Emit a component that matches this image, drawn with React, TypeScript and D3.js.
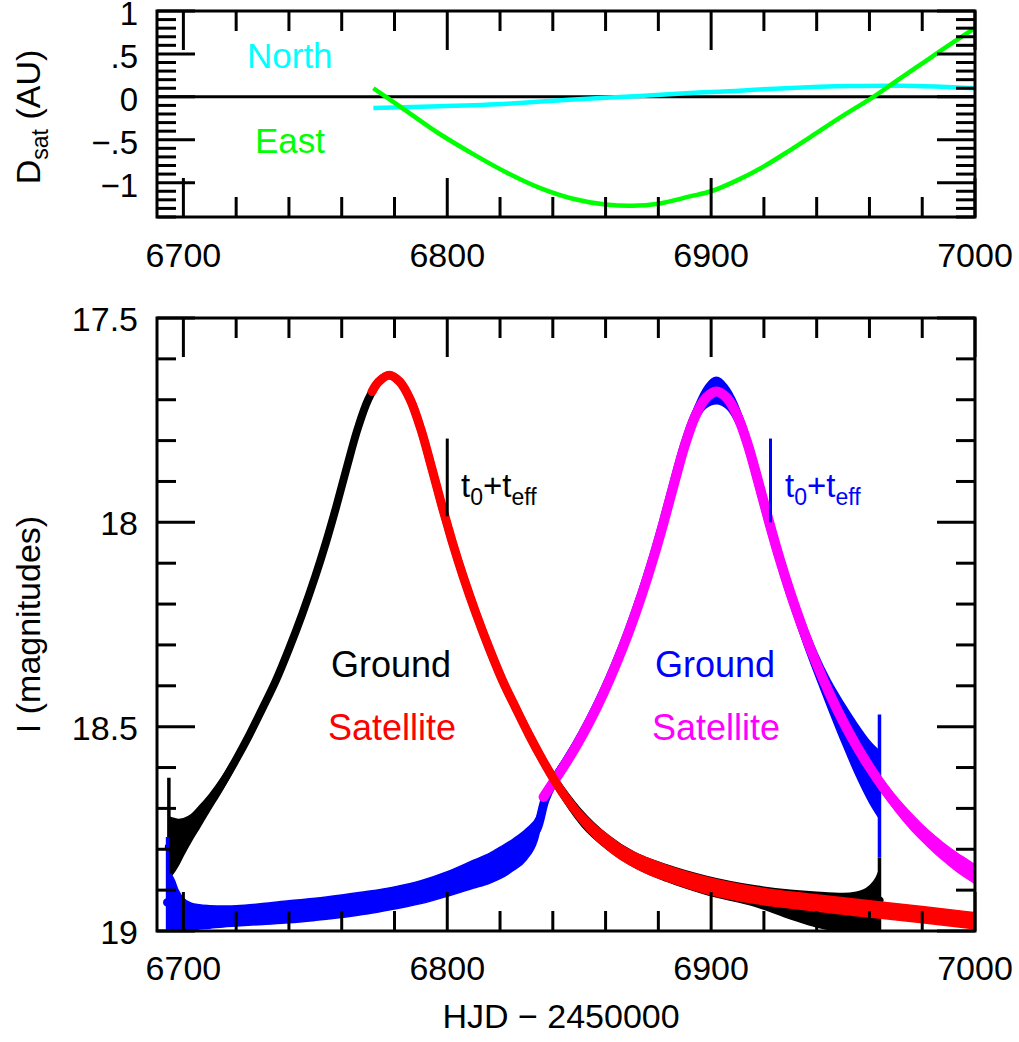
import React from "react";
import * as d3 from "d3";

// ---------- data ----------
const xMajorTicks = [6700, 6800, 6900, 7000];
const topYTicks = [1, 0.5, 0, -0.5, -1];
const topYLabels = ["1", ".5", "0", "\u2212.5", "\u22121"];
const botYTicks = [17.5, 18, 18.5, 19];
const botYLabels = ["17.5", "18", "18.5", "19"];

// Top panel: satellite separation (AU)
const eastT = [6772, 6782, 6797, 6810, 6823, 6835, 6848, 6860, 6870, 6880, 6892, 6900, 6910, 6920, 6930, 6940, 6950, 6961.5, 6970, 6980, 6990, 7000];
const eastV = [0.10, -0.11, -0.43, -0.67, -0.89, -1.06, -1.19, -1.255, -1.27, -1.245, -1.16, -1.10, -0.97, -0.81, -0.62, -0.42, -0.22, 0.0, 0.18, 0.39, 0.60, 0.80];
const northT = [6772, 6797, 6823, 6848, 6873, 6892, 6903, 6928, 6953, 6972, 6985, 7000];
const northV = [-0.13, -0.11, -0.08, -0.03, 0.01, 0.045, 0.06, 0.10, 0.125, 0.13, 0.12, 0.10];

// Ground 1 (black) band: bright edge / faint edge (mag)
const g1T = [6694.5, 6696, 6698, 6700, 6703, 6706, 6710, 6715, 6720, 6725, 6730, 6735, 6740, 6745, 6750, 6754, 6758, 6762, 6766, 6770, 6774, 6778, 6782, 6786, 6790, 6794, 6798, 6802, 6806, 6811, 6816, 6821, 6826, 6831, 6836, 6841, 6846, 6851, 6861, 6871, 6883, 6898, 6917, 6930, 6940, 6950, 6955, 6960, 6962.5, 6963.8];
const g1Hi = [18.72, 18.724, 18.727, 18.725, 18.715, 18.695, 18.665, 18.62, 18.567, 18.509, 18.445, 18.379, 18.302, 18.218, 18.126, 18.045, 17.956, 17.861, 17.77, 17.698, 17.655, 17.639, 17.655, 17.698, 17.77, 17.861, 17.956, 18.045, 18.126, 18.218, 18.302, 18.379, 18.445, 18.509, 18.567, 18.62, 18.665, 18.705, 18.766, 18.808, 18.838, 18.866, 18.89, 18.9, 18.905, 18.908, 18.905, 18.89, 18.87, 18.85];
const g1Lo = [18.87, 18.86, 18.84, 18.815, 18.78, 18.748, 18.705, 18.652, 18.593, 18.531, 18.465, 18.397, 18.318, 18.232, 18.138, 18.055, 17.964, 17.867, 17.774, 17.702, 17.657, 17.641, 17.657, 17.702, 17.774, 17.867, 17.964, 18.055, 18.138, 18.232, 18.318, 18.397, 18.465, 18.531, 18.593, 18.65, 18.70, 18.743, 18.802, 18.844, 18.878, 18.91, 18.94, 18.97, 18.99, 19.0, 19.0, 19.0, 19.0, 19.0];

// Satellite 1 (red)
const s1T = [6771.5, 6774, 6778, 6782, 6786, 6790, 6794, 6798, 6800, 6802, 6806, 6811, 6816, 6821, 6826, 6831, 6836, 6841, 6846, 6851, 6856, 6861, 6866, 6871, 6876, 6883, 6898, 6917, 6938, 6960, 6980, 7000];
const s1Hi = [17.68, 17.656, 17.64, 17.656, 17.70, 17.772, 17.864, 17.96, 18.005, 18.05, 18.132, 18.225, 18.308, 18.384, 18.449, 18.512, 18.57, 18.623, 18.669, 18.7085, 18.74, 18.766, 18.79, 18.808, 18.822, 18.839, 18.868, 18.893, 18.91, 18.926, 18.94, 18.955];
const s1Lo = [17.68, 17.656, 17.64, 17.656, 17.70, 17.772, 17.864, 17.96, 18.005, 18.05, 18.132, 18.225, 18.312, 18.392, 18.461, 18.528, 18.59, 18.647, 18.697, 18.7395, 18.774, 18.802, 18.826, 18.844, 18.86, 18.877, 18.908, 18.933, 18.95, 18.966, 18.98, 18.995];

// Ground 2 (blue)
const g2T = [6694, 6695, 6696.5, 6698, 6700, 6703, 6706, 6710, 6715, 6720, 6730, 6740, 6750, 6760, 6770, 6780, 6790, 6800, 6810, 6816, 6820, 6825, 6830, 6834, 6837, 6840, 6844, 6849, 6854, 6859, 6864, 6869, 6874, 6878, 6882, 6886, 6890, 6894, 6898, 6902, 6906, 6910, 6914, 6918, 6922, 6926, 6930, 6935, 6940, 6945, 6950, 6955, 6960, 6963.8];
const g2Hi = [18.86, 18.86, 18.875, 18.90, 18.92, 18.932, 18.936, 18.938, 18.939, 18.938, 18.933, 18.926, 18.92, 18.912, 18.903, 18.892, 18.877, 18.855, 18.827, 18.81, 18.795, 18.775, 18.75, 18.72, 18.66, 18.62, 18.58, 18.527, 18.468, 18.402, 18.328, 18.245, 18.153, 18.071, 17.981, 17.885, 17.79, 17.715, 17.665, 17.645, 17.665, 17.712, 17.788, 17.882, 17.978, 18.067, 18.148, 18.238, 18.318, 18.385, 18.44, 18.49, 18.535, 18.56];
const g2Lo = [19.0, 19.0, 19.0, 19.0, 18.999, 18.997, 18.995, 18.993, 18.99, 18.988, 18.984, 18.98, 18.974, 18.967, 18.958, 18.946, 18.933, 18.915, 18.895, 18.883, 18.872, 18.852, 18.825, 18.78, 18.70, 18.655, 18.612, 18.559, 18.50, 18.434, 18.36, 18.277, 18.185, 18.103, 18.013, 17.917, 17.828, 17.76, 17.72, 17.71, 17.722, 17.765, 17.835, 17.926, 18.022, 18.113, 18.198, 18.295, 18.382, 18.465, 18.545, 18.62, 18.685, 18.725];

// Satellite 2 (magenta)
const s2T = [6836.5, 6840, 6844, 6849, 6854, 6859, 6864, 6869, 6874, 6878, 6882, 6886, 6890, 6894, 6898, 6902, 6906, 6910, 6914, 6918, 6922, 6926, 6930, 6935, 6940, 6945, 6950, 6955, 6960, 6965, 6970, 6975, 6980, 6985, 6990, 6995, 7000];
const s2Hi = [18.668, 18.634, 18.595, 18.542, 18.483, 18.417, 18.343, 18.261, 18.169, 18.088, 17.999, 17.904, 17.812, 17.74, 17.696, 17.68, 17.696, 17.74, 17.812, 17.904, 17.998, 18.087, 18.167, 18.258, 18.339, 18.412, 18.476, 18.533, 18.584, 18.63, 18.671, 18.707, 18.74, 18.769, 18.795, 18.817, 18.838];
const s2Lo = [18.676, 18.642, 18.603, 18.55, 18.491, 18.425, 18.351, 18.268, 18.175, 18.092, 18.001, 17.904, 17.812, 17.74, 17.696, 17.68, 17.696, 17.74, 17.812, 17.904, 18.002, 18.093, 18.177, 18.271, 18.355, 18.43, 18.498, 18.559, 18.614, 18.663, 18.707, 18.746, 18.78, 18.811, 18.838, 18.863, 18.884];

// Spikes at the ends of the ground light curves
const g1SpikeT = [6694.5, 6963.8];
const g1SpikeTop = [18.625, 18.82];
const g1SpikeBot = [19.0, 19.0];
const g2SpikeT = [6694.0, 6963.8];
const g2SpikeTop = [18.77, 18.47];
const g2SpikeBot = [19.0, 18.82];

// t0 + teff markers
const markT = [6800, 6922.5];
const markTop = [17.795, 17.795];
const markBot = [17.985, 18.0];

// ---------- layout ----------
const W = 1019, H = 1042;
const L = 157, R = 975;
const TOP = { t: 11, b: 217 };
const BOT = { t: 318, b: 931 };
const FONT = "'Liberation Sans', Arial, Helvetica, sans-serif";

const fx = d3.scaleLinear().domain([6690, 7000]).range([L, R]);
const fyTop = d3.scaleLinear().domain([-1.4, 1]).range([TOP.b, TOP.t]);
const fyBot = d3.scaleLinear().domain([17.5, 19]).range([BOT.t, BOT.b]);

const CURVE = d3.curveCatmullRom.alpha(0.5);

function Band({ t, hi, lo, color, sw }: { t: number[]; hi: number[]; lo: number[]; color: string; sw: number }) {
  const idx = t.map((_, i) => i);
  const area = d3.area<number>()
    .x((i) => fx(t[i]))
    .y0((i) => fyBot(hi[i]))
    .y1((i) => fyBot(lo[i]))
    .curve(d3.curveMonotoneX);
  const mid = d3.line<number>()
    .x((i) => fx(t[i]))
    .y((i) => fyBot((hi[i] + lo[i]) / 2))
    .curve(CURVE);
  return (
    <g>
      <path d={area(idx) || ""} fill={color} stroke={color} strokeWidth={1.5} />
      <path d={mid(idx) || ""} fill="none" stroke={color} strokeWidth={sw} strokeLinecap="round" strokeLinejoin="round" />
    </g>
  );
}

function Spikes({ t, top, bot, color }: { t: number[]; top: number[]; bot: number[]; color: string }) {
  return (
    <g>
      {t.map((v, i) => (
        <line key={i} x1={fx(v)} x2={fx(v)} y1={fyBot(top[i])} y2={fyBot(bot[i])} stroke={color} strokeWidth={3.5} />
      ))}
    </g>
  );
}

function Frame({ top, bot, yMinor, yMajor, ys }: { top: number; bot: number; yMinor: number[]; yMajor: number[]; ys: (v: number) => number }) {
  const xMinor = d3.range(6700, 7001, 20);
  const els: JSX.Element[] = [];
  xMinor.forEach((v, i) => {
    const major = xMajorTicks.includes(v);
    const len = major ? 39 : 20;
    const x = fx(v);
    els.push(<line key={"xt" + i} x1={x} x2={x} y1={top} y2={top + len} stroke="#000" strokeWidth={3} />);
    els.push(<line key={"xb" + i} x1={x} x2={x} y1={bot} y2={bot - len} stroke="#000" strokeWidth={3} />);
  });
  yMinor.forEach((v, i) => {
    const major = yMajor.some((m) => Math.abs(m - v) < 1e-6);
    const len = major ? 38 : 19;
    const y = ys(v);
    els.push(<line key={"yl" + i} x1={L} x2={L + len} y1={y} y2={y} stroke="#000" strokeWidth={3} />);
    els.push(<line key={"yr" + i} x1={R} x2={R - len} y1={y} y2={y} stroke="#000" strokeWidth={3} />);
  });
  return (
    <g>
      {els}
      <rect x={L} y={top} width={R - L} height={bot - top} fill="none" stroke="#000" strokeWidth={3} />
    </g>
  );
}

function TeffLabel({ x, y, color }: { x: number; y: number; color: string }) {
  return (
    <text x={x} y={y} fontFamily={FONT} fontSize={33} fill={color}>
      t<tspan fontSize={23} dy={8}>0</tspan>
      <tspan dy={-8}>+t</tspan>
      <tspan fontSize={23} dy={8}>eff</tspan>
    </text>
  );
}

export default function App() {
  const eastLine = d3.line<number>().x((i) => fx(eastT[i])).y((i) => fyTop(eastV[i])).curve(CURVE);
  const northLine = d3.line<number>().x((i) => fx(northT[i])).y((i) => fyTop(northV[i])).curve(CURVE);

  const topMinor = d3.range(-14, 11).map((v) => v / 10);
  const botMinor = d3.range(175, 191).map((v) => v / 10);
  const topMajor = [1, 0.5, 0, -0.5, -1];
  const botMajor = [17.5, 18, 18.5, 19];

  return (
    <svg width={W} height={H} style={{ position: "absolute", left: 0, top: 0, background: "#fff" }} fontFamily={FONT}>
      <rect x={0} y={0} width={W} height={H} fill="#fff" />
      <defs>
        <clipPath id="clipTop"><rect x={L} y={TOP.t} width={R - L} height={TOP.b - TOP.t} /></clipPath>
        <clipPath id="clipBot"><rect x={L} y={BOT.t} width={R - L} height={BOT.b - BOT.t} /></clipPath>
      </defs>

      {/* ---------- top panel ---------- */}
      <line x1={L} x2={R} y1={fyTop(0)} y2={fyTop(0)} stroke="#000" strokeWidth={3} />
      <g clipPath="url(#clipTop)">
        <path d={northLine(northT.map((_, i) => i)) || ""} fill="none" stroke="#00FFFF" strokeWidth={4.5} />
        <path d={eastLine(eastT.map((_, i) => i)) || ""} fill="none" stroke="#00FF00" strokeWidth={4.5} />
      </g>
      <Frame top={TOP.t} bot={TOP.b} yMinor={topMinor} yMajor={topMajor} ys={fyTop} />
      {topYTicks.map((v, i) => (
        <text key={i} x={138} y={fyTop(v) + 14} textAnchor="end" fontSize={33}>{topYLabels[i]}</text>
      ))}
      {xMajorTicks.map((v) => (
        <text key={v} x={fx(v)} y={267} textAnchor="middle" fontSize={34}>{v}</text>
      ))}
      <text x={247} y={68} fontSize={35} fill="#00FFFF">North</text>
      <text x={255} y={153} fontSize={35} fill="#00FF00">East</text>
      <text transform={`translate(40,${(TOP.t + TOP.b) / 2 + 3}) rotate(-90)`} textAnchor="middle" fontSize={34}>
        D<tspan fontSize={23} dy={8}>sat</tspan><tspan dy={-8}> (AU)</tspan>
      </text>

      {/* ---------- bottom panel ---------- */}
      <g clipPath="url(#clipBot)">
        <Band t={g1T} hi={g1Hi} lo={g1Lo} color="#000000" sw={8} />
        <Spikes t={g1SpikeT} top={g1SpikeTop} bot={g1SpikeBot} color="#000000" />
        <Band t={g2T} hi={g2Hi} lo={g2Lo} color="#0000FF" sw={9} />
        <Spikes t={g2SpikeT} top={g2SpikeTop} bot={g2SpikeBot} color="#0000FF" />
        <Band t={s2T} hi={s2Hi} lo={s2Lo} color="#FF00FF" sw={10} />
        <Band t={s1T} hi={s1Hi} lo={s1Lo} color="#FF0000" sw={9} />
      </g>
      {markT.map((v, i) => (
        <line key={i} x1={fx(v)} x2={fx(v)} y1={fyBot(markTop[i])} y2={fyBot(markBot[i])} stroke={i === 0 ? "#000" : "#0000FF"} strokeWidth={3} />
      ))}
      <TeffLabel x={461} y={497} color="#000" />
      <TeffLabel x={785} y={497} color="#0000FF" />
      <text x={391} y={677} textAnchor="middle" fontSize={36} fill="#000">Ground</text>
      <text x={392} y={740} textAnchor="middle" fontSize={36} fill="#FF0000">Satellite</text>
      <text x={715} y={677} textAnchor="middle" fontSize={36} fill="#0000FF">Ground</text>
      <text x={716} y={740} textAnchor="middle" fontSize={36} fill="#FF00FF">Satellite</text>

      <Frame top={BOT.t} bot={BOT.b} yMinor={botMinor} yMajor={botMajor} ys={fyBot} />
      {botYTicks.map((v, i) => (
        <text key={i} x={138} y={fyBot(v) + 13} textAnchor="end" fontSize={34}>{botYLabels[i]}</text>
      ))}
      {xMajorTicks.map((v) => (
        <text key={v} x={fx(v)} y={980} textAnchor="middle" fontSize={34}>{v}</text>
      ))}
      <text x={561} y={1028} textAnchor="middle" fontSize={34}>HJD {"\u2212"} 2450000</text>
      <text transform={`translate(40,${(BOT.t + BOT.b) / 2}) rotate(-90)`} textAnchor="middle" fontSize={34}>I (magnitudes)</text>
    </svg>
  );
}
